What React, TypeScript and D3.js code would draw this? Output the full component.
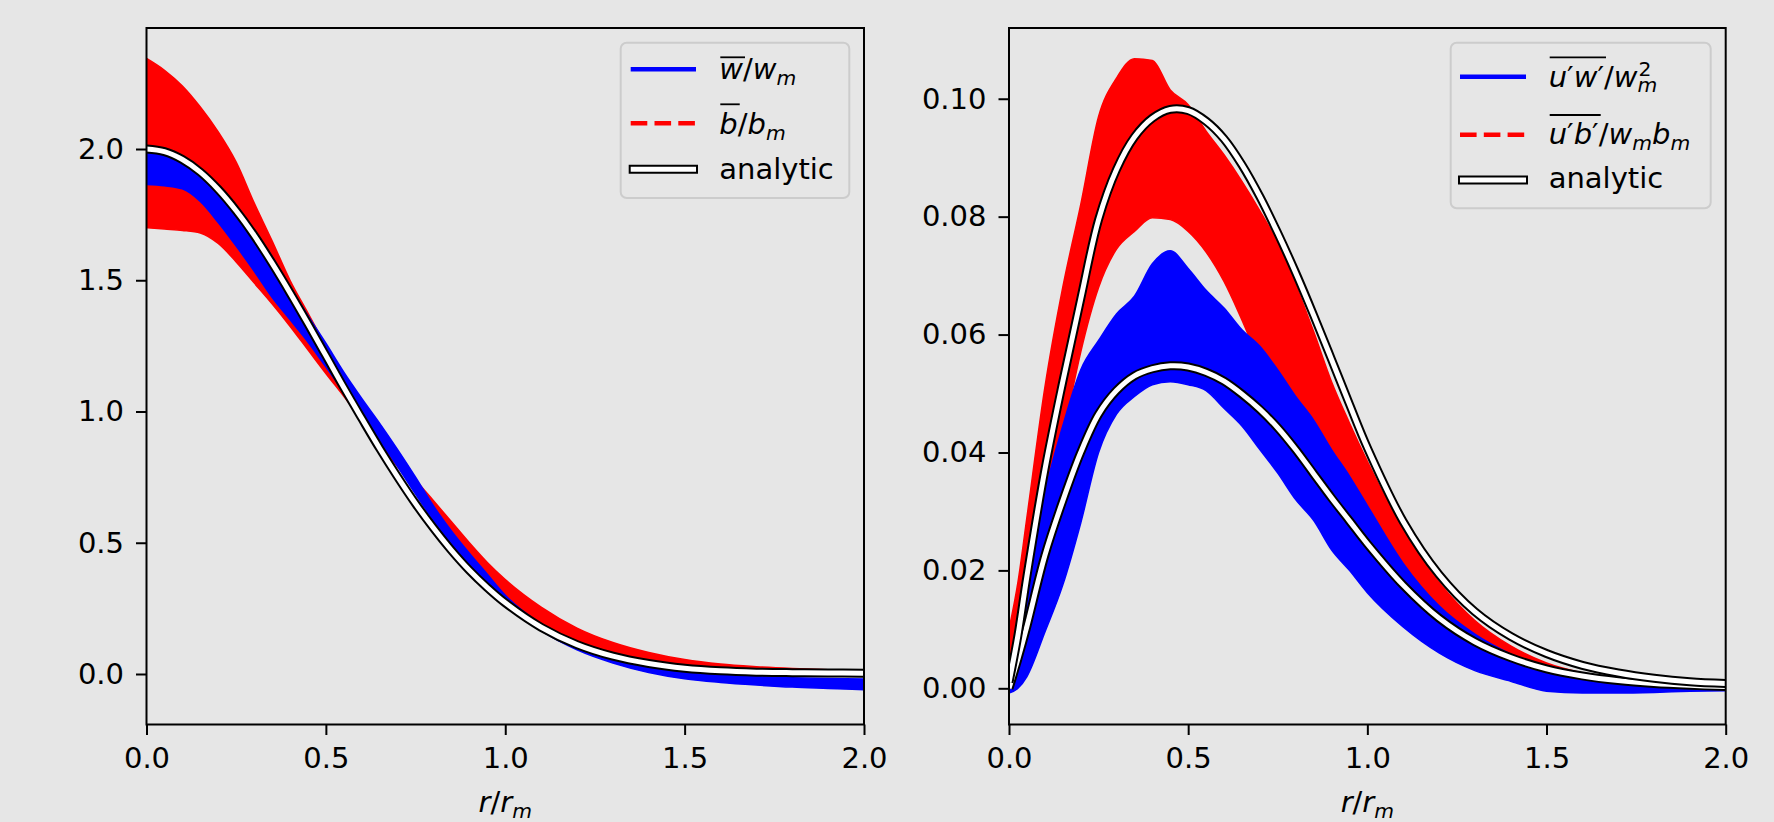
import React, { useRef, useEffect } from "react";
import * as d3 from "d3";

// left panel: mean vertical velocity and buoyancy, r/r_m
const rMean = [0, 0.05, 0.1, 0.15, 0.2, 0.25, 0.3, 0.35, 0.4, 0.45, 0.5, 0.55, 0.6, 0.65, 0.7, 0.75, 0.8, 0.85, 0.9, 0.95, 1.0, 1.1, 1.2, 1.3, 1.4, 1.5, 1.6, 1.7, 1.8, 1.9, 2.0];
const meanAnalytic = [2.0, 1.99, 1.96, 1.912, 1.846, 1.765, 1.671, 1.565, 1.452, 1.334, 1.213, 1.091, 0.974, 0.859, 0.751, 0.649, 0.556, 0.471, 0.395, 0.329, 0.271, 0.178, 0.112, 0.068, 0.04, 0.022, 0.012, 0.007, 0.005, 0.004, 0.003];
const wMeanUpper = [1.995, 1.99, 1.962, 1.915, 1.855, 1.785, 1.69, 1.59, 1.475, 1.365, 1.26, 1.15, 1.05, 0.955, 0.855, 0.75, 0.64, 0.545, 0.46, 0.38, 0.3, 0.19, 0.115, 0.068, 0.035, 0.012, -0.002, -0.01, -0.014, -0.017, -0.019];
const wMeanLower = [1.865, 1.86, 1.848, 1.8, 1.72, 1.63, 1.535, 1.435, 1.35, 1.265, 1.17, 1.075, 0.985, 0.89, 0.79, 0.685, 0.585, 0.495, 0.415, 0.34, 0.27, 0.165, 0.092, 0.042, 0.006, -0.018, -0.032, -0.042, -0.05, -0.055, -0.06];
const bMeanUpper = [2.345, 2.3, 2.24, 2.16, 2.065, 1.95, 1.795, 1.65, 1.5, 1.375, 1.25, 1.13, 1.02, 0.92, 0.83, 0.74, 0.66, 0.58, 0.5, 0.425, 0.36, 0.255, 0.175, 0.12, 0.082, 0.055, 0.038, 0.028, 0.021, 0.016, 0.013];
const bMeanLower = [1.7, 1.695, 1.69, 1.68, 1.64, 1.57, 1.49, 1.41, 1.325, 1.235, 1.145, 1.058, 0.967, 0.875, 0.79, 0.7, 0.61, 0.52, 0.435, 0.36, 0.29, 0.19, 0.12, 0.075, 0.045, 0.026, 0.015, 0.01, 0.007, 0.005, 0.004];

// right panel: turbulent radial fluxes
const rFlux = [0, 0.025, 0.05, 0.1, 0.15, 0.2, 0.25, 0.3, 0.35, 0.4, 0.45, 0.5, 0.55, 0.6, 0.65, 0.7, 0.75, 0.8, 0.85, 0.9, 0.95, 1.0, 1.1, 1.2, 1.3, 1.4, 1.5, 1.6, 1.7, 1.8, 1.9, 2.0];
const uwAnalytic = [0.0, 0.005, 0.0105, 0.0225, 0.0318, 0.04, 0.0465, 0.0505, 0.053, 0.0542, 0.0547, 0.0545, 0.0536, 0.0521, 0.0499, 0.0473, 0.0442, 0.0405, 0.0364, 0.0323, 0.0284, 0.0245, 0.0175, 0.0119, 0.0079, 0.0052, 0.0033, 0.0021, 0.0013, 0.0008, 0.0005, 0.0003];
const ubAnalytic = [0.001, 0.009, 0.019, 0.037, 0.052, 0.066, 0.0795, 0.088, 0.0935, 0.0967, 0.0982, 0.098, 0.0962, 0.0932, 0.0888, 0.0834, 0.0772, 0.0705, 0.0633, 0.0558, 0.0482, 0.0408, 0.0283, 0.0193, 0.013, 0.0088, 0.0059, 0.0039, 0.0026, 0.0017, 0.0011, 0.0008];
const uwUpper = [0.002, 0.008, 0.016, 0.033, 0.0445, 0.054, 0.059, 0.0635, 0.0665, 0.072, 0.0742, 0.0712, 0.0675, 0.0645, 0.0608, 0.058, 0.054, 0.0495, 0.0455, 0.0405, 0.036, 0.031, 0.0212, 0.014, 0.0092, 0.0058, 0.0032, 0.0018, 0.001, 0.0006, 0.0003, 0.0002];
const uwLower = [-0.0008, 0.0, 0.002, 0.0095, 0.0175, 0.028, 0.04, 0.0465, 0.0495, 0.0515, 0.052, 0.0515, 0.0505, 0.0475, 0.0445, 0.0405, 0.0365, 0.032, 0.0285, 0.0235, 0.02, 0.0162, 0.0104, 0.006, 0.003, 0.0012, -0.0005, -0.0008, -0.0008, -0.0007, -0.0005, -0.0004];
const ubUpper = [0.01, 0.018, 0.029, 0.051, 0.068, 0.082, 0.097, 0.1035, 0.1068, 0.1065, 0.1015, 0.099, 0.0945, 0.0905, 0.086, 0.081, 0.0755, 0.0685, 0.0605, 0.052, 0.045, 0.0385, 0.0268, 0.018, 0.0115, 0.0072, 0.0043, 0.0026, 0.0015, 0.0008, 0.0004, 0.0002];
const ubLower = [0.0, 0.003, 0.008, 0.024, 0.042, 0.057, 0.068, 0.0745, 0.0775, 0.0798, 0.0795, 0.0775, 0.074, 0.069, 0.0625, 0.0555, 0.0505, 0.0465, 0.041, 0.0368, 0.0325, 0.0282, 0.018, 0.0118, 0.0075, 0.0045, 0.0023, 0.0012, 0.0006, 0.0003, 0.0001, 0.0];

const xTicks = [0, 0.5, 1.0, 1.5, 2.0];
const meanTicks = [0, 0.5, 1.0, 1.5, 2.0];
const fluxTicks = [0, 0.02, 0.04, 0.06, 0.08, 0.1];

const FONT = "'DejaVu Sans', sans-serif";
const BG = "#e6e6e6";
const BLUE = "#0000ff";
const RED = "#ff0000";

// a piece of math text: over = start an overline (offset above baseline), end = close it
type Seg = { t?: string; it?: boolean; sub?: string; sup?: string; over?: number; end?: boolean };

const drawMath = (g: any, x: number, y: number, segs: Seg[], size: number, middle = false) => {
  const grp = g.append("g");
  let cx = 0;
  let overStart: number | null = null;
  let overY = 0;
  const txt = (s: string, px: number, py: number, fs: number, it: boolean) =>
    grp
      .append("text")
      .attr("x", px)
      .attr("y", py)
      .attr("font-family", FONT)
      .attr("font-size", fs)
      .attr("font-style", it ? "italic" : "normal")
      .attr("fill", "#000")
      .text(s);
  segs.forEach((s) => {
    if (s.over) {
      overStart = cx;
      overY = s.over;
    }
    if (s.t) {
      cx += txt(s.t, cx, 0, size, !!s.it).node().getComputedTextLength();
    }
    if (s.sub || s.sup) {
      let w = 0;
      const fs = size * 0.7;
      if (s.sub) w = Math.max(w, txt(s.sub, cx, size * 0.19, fs, true).node().getComputedTextLength());
      if (s.sup) w = Math.max(w, txt(s.sup, cx + 1, -size * 0.38, fs, false).node().getComputedTextLength());
      cx += w;
    }
    if (overStart !== null && (s.end || (s.over && !segs.some((q) => q.end)))) {
      grp
        .append("line")
        .attr("x1", overStart + 1)
        .attr("x2", cx + 2)
        .attr("y1", -overY)
        .attr("y2", -overY)
        .attr("stroke", "#000")
        .attr("stroke-width", 1.8);
      overStart = null;
    }
  });
  grp.attr("transform", `translate(${middle ? x - cx / 2 : x},${y})`);
};

const panels = [
  {
    id: "mean",
    left: 146.5,
    right: 864,
    yDomain: [-0.1924, 2.461],
    yTicks: meanTicks,
    fmt: ".1f",
    r: rMean,
    bands: [
      { lo: bMeanLower, hi: bMeanUpper, color: RED },
      { lo: wMeanLower, hi: wMeanUpper, color: BLUE },
    ],
    analytic: [meanAnalytic],
    legend: {
      box: [620.7, 42.7, 849.3, 198],
      hx: [630.7, 696],
      hy: [69.3, 123.3, 169.3],
      tx: 719.3,
      ty: [79.3, 134.3, 179.3],
      labels: [
        [{ t: "w", it: true, over: 22, end: true }, { t: "/" }, { t: "w", it: true }, { sub: "m" }],
        [{ t: "b", it: true, over: 30, end: true }, { t: "/" }, { t: "b", it: true }, { sub: "m" }],
        [{ t: "analytic" }],
      ] as Seg[][],
    },
  },
  {
    id: "flux",
    left: 1009,
    right: 1725.7,
    yDomain: [-0.00614, 0.112],
    yTicks: fluxTicks,
    fmt: ".2f",
    r: rFlux,
    bands: [
      { lo: ubLower, hi: ubUpper, color: RED },
      { lo: uwLower, hi: uwUpper, color: BLUE },
    ],
    analytic: [uwAnalytic, ubAnalytic],
    legend: {
      box: [1450.7, 42.7, 1710.7, 208.3],
      hx: [1460, 1526],
      hy: [76.7, 134.7, 180],
      tx: 1548.7,
      ty: [86.7, 144, 188.3],
      labels: [
        [{ t: "u", it: true, over: 29.4 }, { t: "′" }, { t: "w", it: true }, { t: "′", end: true }, { t: "/" }, { t: "w", it: true }, { sub: "m", sup: "2" }],
        [{ t: "u", it: true, over: 29 }, { t: "′" }, { t: "b", it: true }, { t: "′", end: true }, { t: "/" }, { t: "w", it: true }, { sub: "m" }, { t: "b", it: true }, { sub: "m" }],
        [{ t: "analytic" }],
      ] as Seg[][],
    },
  },
];

const TOP = 28;
const BOTTOM = 724.5;

const App = () => {
  const ref = useRef<SVGSVGElement>(null);

  useEffect(() => {
    const svg = d3.select(ref.current);
    svg.selectAll("*").remove();

    svg.append("rect").attr("width", 1774).attr("height", 822).attr("fill", BG);

    panels.forEach((p) => {
      const x = d3.scaleLinear().domain([0, 2]).range([p.left, p.right]);
      const y = d3.scaleLinear().domain(p.yDomain).range([BOTTOM, TOP]);
      const g = svg.append("g");

      g.append("clipPath")
        .attr("id", `clip-${p.id}`)
        .append("rect")
        .attr("x", p.left)
        .attr("y", TOP)
        .attr("width", p.right - p.left)
        .attr("height", BOTTOM - TOP);

      const plot = g.append("g").attr("clip-path", `url(#clip-${p.id})`);

      p.bands.forEach((b) => {
        const area = d3
          .area<number>()
          .x((d) => x(d))
          .y0((_, i) => y(b.lo[i]))
          .y1((_, i) => y(b.hi[i]))
          .curve(d3.curveMonotoneX);
        plot.append("path").attr("d", area(p.r)).attr("fill", b.color).attr("stroke", b.color).attr("stroke-width", 1.5);
      });

      p.analytic.forEach((vals) => {
        const line = d3
          .line<number>()
          .x((d) => x(d))
          .y((_, i) => y(vals[i]))
          .curve(d3.curveCatmullRom.alpha(0.5));
        plot.append("path").attr("d", line(p.r)).attr("fill", "none").attr("stroke", "#000").attr("stroke-width", 9);
        plot.append("path").attr("d", line(p.r)).attr("fill", "none").attr("stroke", "#fff").attr("stroke-width", 5);
      });

      // axes
      const xAxis = g
        .append("g")
        .attr("transform", `translate(0,${BOTTOM})`)
        .call(d3.axisBottom(x).tickValues(xTicks).tickSize(10.5).tickPadding(12).tickFormat(d3.format(".1f")));
      const yAxis = g
        .append("g")
        .attr("transform", `translate(${p.left},0)`)
        .call(d3.axisLeft(y).tickValues(p.yTicks).tickSize(10.5).tickPadding(12).tickFormat(d3.format(p.fmt)));
      [xAxis, yAxis].forEach((a) => {
        a.select(".domain").remove();
        a.attr("font-family", FONT).attr("font-size", 29);
        a.selectAll("line").attr("stroke", "#000").attr("stroke-width", 2);
        a.selectAll("text").attr("fill", "#000");
      });

      g.append("rect")
        .attr("x", p.left)
        .attr("y", TOP)
        .attr("width", p.right - p.left)
        .attr("height", BOTTOM - TOP)
        .attr("fill", "none")
        .attr("stroke", "#000")
        .attr("stroke-width", 2);

      drawMath(g, (p.left + p.right) / 2, 812, [{ t: "r", it: true }, { t: "/" }, { t: "r", it: true }, { sub: "m" }], 29, true);

      // legend
      const L = p.legend;
      g.append("rect")
        .attr("x", L.box[0])
        .attr("y", L.box[1])
        .attr("width", L.box[2] - L.box[0])
        .attr("height", L.box[3] - L.box[1])
        .attr("rx", 6)
        .attr("fill", BG)
        .attr("fill-opacity", 0.8)
        .attr("stroke", "#cccccc")
        .attr("stroke-width", 2);

      g.append("line")
        .attr("x1", L.hx[0]).attr("x2", L.hx[1])
        .attr("y1", L.hy[0]).attr("y2", L.hy[0])
        .attr("stroke", BLUE).attr("stroke-width", 4.5);
      g.append("line")
        .attr("x1", L.hx[0]).attr("x2", L.hx[1])
        .attr("y1", L.hy[1]).attr("y2", L.hy[1])
        .attr("stroke", RED).attr("stroke-width", 4.5)
        .attr("stroke-dasharray", "16.6 7.2");
      g.append("line")
        .attr("x1", L.hx[0] - 2).attr("x2", L.hx[1] + 2)
        .attr("y1", L.hy[2]).attr("y2", L.hy[2])
        .attr("stroke", "#000").attr("stroke-width", 9);
      g.append("line")
        .attr("x1", L.hx[0]).attr("x2", L.hx[1])
        .attr("y1", L.hy[2]).attr("y2", L.hy[2])
        .attr("stroke", "#fff").attr("stroke-width", 5);

      L.labels.forEach((segs, i) => drawMath(g, L.tx, L.ty[i], segs, 29));
    });
  }, []);

  return (
    <svg
      ref={ref}
      width={1774}
      height={822}
      style={{ position: "absolute", left: 0, top: 0, display: "block", background: BG }}
    />
  );
};

export default App;
